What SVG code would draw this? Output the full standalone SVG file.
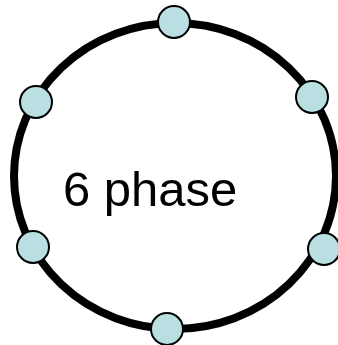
<svg xmlns="http://www.w3.org/2000/svg" width="338" height="345" viewBox="0 0 338 345">
<style>
.ring{fill:none;stroke:#000;stroke-width:8}
.node{fill:#b9dfe3;stroke:#000;stroke-width:2}
.label{font-family:"Liberation Sans",Arial,sans-serif;font-size:49px;fill:#000}
</style>
<rect width="338" height="345" fill="#fff"/>
<g id="connectors">
<ellipse class="ring" cx="175" cy="176" rx="161" ry="153"/>
</g>
<g id="n-top"><circle class="node" cx="174" cy="22" r="16"/></g>
<g id="n-upper-right"><circle class="node" cx="312" cy="97" r="16"/></g>
<g id="n-lower-right"><circle class="node" cx="324" cy="249" r="16"/></g>
<g id="n-bottom"><circle class="node" cx="167" cy="329" r="16"/></g>
<g id="n-lower-left"><circle class="node" cx="33" cy="247" r="16"/></g>
<g id="n-upper-left"><circle class="node" cx="36" cy="102" r="16"/></g>
<g id="center"><text class="label" x="63" y="206">6 phase</text></g>
</svg>
